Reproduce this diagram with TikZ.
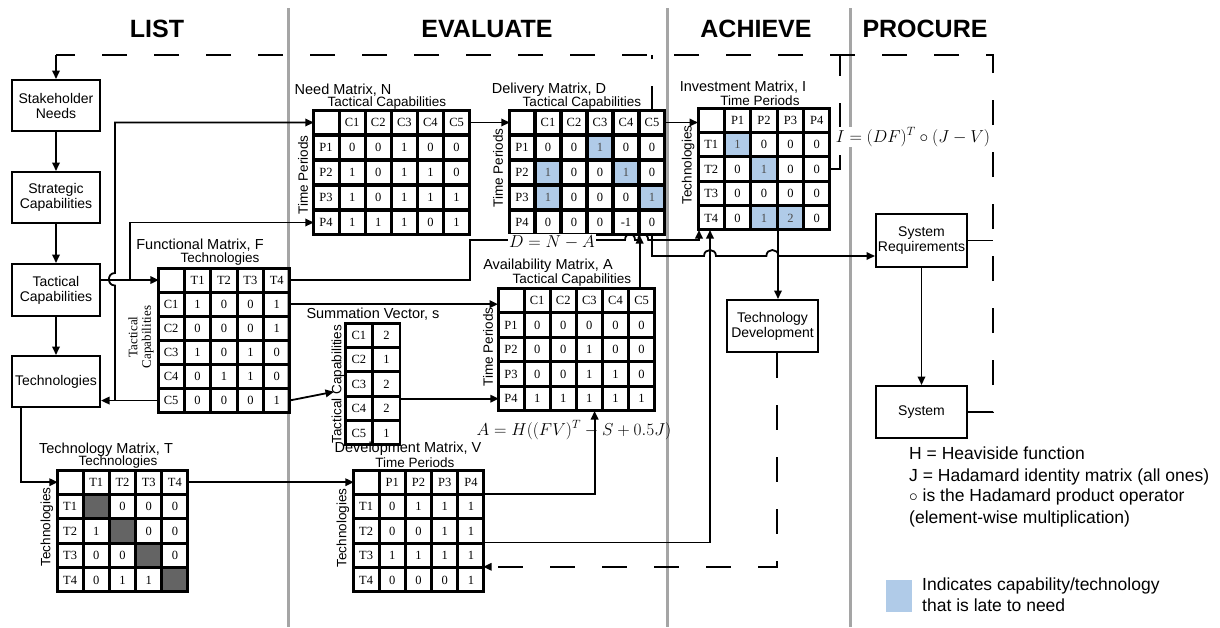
\documentclass[tikz,border=0pt]{standalone}
\usepackage[no-math]{fontspec}
\setmainfont{Liberation Sans}
\newfontfamily\tms{Liberation Serif}
\usetikzlibrary{matrix,arrows.meta}
\definecolor{late}{RGB}{176,203,232}
\definecolor{dk}{RGB}{100,100,100}
\definecolor{sepc}{RGB}{165,165,165}
\begin{document}
\begin{tikzpicture}[x=1pt,y=-1pt,
 ln/.style={line width=1.8pt},
 arr/.style={ln,-{Triangle[length=8.5pt,width=7.5pt]}},
 dl/.style={ln,dash pattern=on 25pt off 27pt},
 box/.style={draw,line width=2pt,align=center,font=\fontsize{14}{15}\selectfont,inner sep=1pt},
 cell/.style={draw,line width=1.6pt,outer sep=0pt,inner sep=0pt,font=\tms\fontsize{12.5}{12.5}\selectfont,text height=8.4pt,text depth=0pt,anchor=center},
 mat/.style={matrix of nodes,nodes in empty cells,ampersand replacement=\&,inner sep=0pt,outer sep=0pt,column sep=0pt,row sep=0pt,anchor=north west},
 lt/.style={fill=late,text=black!70},
 dkc/.style={fill=dk},
 outer/.style={line width=2.4pt},
 ttl/.style={font=\fontsize{14.5}{15}\selectfont,inner sep=0pt},
 sub/.style={font=\fontsize{13.5}{14}\selectfont,inner sep=0pt},
 hdr/.style={font=\bfseries\fontsize{25}{25}\selectfont,inner sep=0pt},
 fml/.style={font=\fontsize{17.28}{17.28}\selectfont,inner sep=1pt},
 leg/.style={font=\fontsize{17.5}{21}\selectfont,inner sep=0pt,anchor=west,text height=12.5pt,text depth=3.5pt},
 sepl/.style={draw=sepc,line width=3pt}
]
\useasboundingbox (0,0) rectangle (1220,627);
% separators
\draw[sepl] (288,8) -- (288,627);
\draw[sepl] (667,8) -- (667,627);
\draw[sepl] (850,8) -- (850,627);
% headers
\node[hdr] (hL) at (157,29) {LIST};
\node[hdr] (hE) at (487,29) {EVALUATE};
\node[hdr] (hA) at (756,29) {ACHIEVE};
\node[hdr] (hP) at (925,29) {PROCURE};
% left boxes
\node[box,minimum width=88pt,minimum height=51pt] (SN) at (56,105.5) {Stakeholder\\Needs};
\node[box,minimum width=88pt,minimum height=51pt] (StC) at (56,197.5) {Strategic\\Capabilities};
\node[box,minimum width=88pt,minimum height=52pt] (TC) at (56,290) {Tactical\\Capabilities};
\node[box,minimum width=88pt,minimum height=51pt] (Tech) at (56,381.5) {Technologies};
% right boxes
\node[box,minimum width=91pt,minimum height=53pt] (SR) at (921.5,240.5) {System\\Requirements};
\node[box,minimum width=91pt,minimum height=52pt] (Sys) at (921.5,412) {System};
\node[box,minimum width=91pt,minimum height=52pt] (TD) at (772.5,326) {Technology\\Development};

% Need matrix
\matrix (N) [mat,nodes={cell,minimum width=24.5pt,minimum height=23.4pt}] at (313,110) {
 \& C1 \& C2 \& C3 \& C4 \& C5 \\
P1 \& 0 \& 0 \& 1 \& 0 \& 0 \\
P2 \& 1 \& 0 \& 1 \& 1 \& 0 \\
P3 \& 1 \& 0 \& 1 \& 1 \& 1 \\
P4 \& 1 \& 1 \& 1 \& 0 \& 1 \\
};
\draw[outer] (N.north west) rectangle (N.south east);
\node[ttl] (Nt) at (343,90) {Need Matrix, N};
\node[sub] (Ns) at (387,103) {Tactical Capabilities};
\node[sub,rotate=90] (Nr) at (303,175) {Time Periods};

% Delivery matrix
\matrix (D) [mat,nodes={cell,minimum width=24.4pt,minimum height=23.4pt}] at (509,110) {
 \& C1 \& C2 \& C3 \& C4 \& C5 \\
P1 \& 0 \& 0 \& |[lt]| 1 \& 0 \& 0 \\
P2 \& |[lt]| 1 \& 0 \& 0 \& |[lt]| 1 \& 0 \\
P3 \& |[lt]| 1 \& 0 \& 0 \& 0 \& |[lt]| 1 \\
P4 \& 0 \& 0 \& 0 \& -1 \& 0 \\
};
\draw[outer] (D.north west) rectangle (D.south east);
\node[ttl] (Dt) at (549,90) {Delivery Matrix, D};
\node[sub] (Ds) at (582,103) {Tactical Capabilities};
\node[sub,rotate=90] (Dr) at (498,168) {Time Periods};

% Investment matrix
\matrix (I) [mat,nodes={cell,minimum width=24.8pt,minimum height=22.8pt}] at (698,108) {
 \& P1 \& P2 \& P3 \& P4 \\
T1 \& |[lt]| 1 \& 0 \& 0 \& 0 \\
T2 \& 0 \& |[lt]| 1 \& 0 \& 0 \\
T3 \& 0 \& 0 \& 0 \& 0 \\
T4 \& 0 \& |[lt]| 1 \& |[lt]| 2 \& 0 \\
};
\draw[outer] (I.north west) rectangle (I.south east);
\node[ttl] (It) at (743,87) {Investment Matrix, I};
\node[sub] (Is) at (760,101) {Time Periods};
\node[sub,rotate=90] (Ir) at (688,165) {Technologies};

% Functional matrix
\matrix (F) [mat,nodes={cell,minimum width=24.8pt,minimum height=22.5pt}] at (158,268) {
 \& T1 \& T2 \& T3 \& T4 \\
C1 \& 1 \& 0 \& 0 \& 1 \\
C2 \& 0 \& 0 \& 0 \& 1 \\
C3 \& 1 \& 0 \& 1 \& 0 \\
C4 \& 0 \& 1 \& 1 \& 0 \\
C5 \& 0 \& 0 \& 0 \& 1 \\
};
\draw[outer] (F.north west) rectangle (F.south east);
\node[ttl] (Ft) at (200,245) {Functional Matrix, F};
\node[sub] (Fs) at (220,259) {Technologies};
\node[rotate=90,align=center,font=\tms\fontsize{13}{13.5}\selectfont,inner sep=0pt] (Fr) at (141,337) {Tactical\\Capabilities};

% Availability matrix
\matrix (A) [mat,nodes={cell,minimum width=24.5pt,minimum height=23pt}] at (498,288) {
 \& C1 \& C2 \& C3 \& C4 \& C5 \\
P1 \& 0 \& 0 \& 0 \& 0 \& 0 \\
P2 \& 0 \& 0 \& 1 \& 0 \& 0 \\
P3 \& 0 \& 0 \& 1 \& 1 \& 0 \\
P4 \& 1 \& 1 \& 1 \& 1 \& 1 \\
};
\draw[outer] (A.north west) rectangle (A.south east);
\node[ttl] (At) at (548,266) {Availability Matrix, A};
\node[sub] (As) at (572,280) {Tactical Capabilities};
\node[sub,rotate=90] (Ar) at (488,347) {Time Periods};

% Summation vector
\matrix (S) [mat,nodes={cell,minimum width=26pt,minimum height=22.8pt}] at (345,323) {
C1 \& 2 \\
C2 \& 1 \\
C3 \& 2 \\
C4 \& 2 \\
C5 \& 1 \\
};
\draw[outer] (S.north west) rectangle (S.south east);
\node[ttl] (St) at (373,314) {Summation Vector, s};
\node[sub,rotate=90] (Sr) at (338,384) {Tactical Capabilities};

% Technology matrix
\matrix (T) [mat,nodes={cell,minimum width=24.6pt,minimum height=22.8pt}] at (57,470) {
 \& T1 \& T2 \& T3 \& T4 \\
T1 \& |[dkc]| {} \& 0 \& 0 \& 0 \\
T2 \& 1 \& |[dkc]| {} \& 0 \& 0 \\
T3 \& 0 \& 0 \& |[dkc]| {} \& 0 \\
T4 \& 0 \& 1 \& 1 \& |[dkc]| {} \\
};
\draw[outer] (T.north west) rectangle (T.south east);
\node[ttl] (Tt) at (106,450) {Technology Matrix, T};
\node[sub] (Ts) at (118,462) {Technologies};
\node[sub,rotate=90] (Tr) at (47,527) {Technologies};

% Development matrix
\matrix (V) [mat,nodes={cell,minimum width=24.6pt,minimum height=22.8pt}] at (353,470) {
 \& P1 \& P2 \& P3 \& P4 \\
T1 \& 0 \& 1 \& 1 \& 1 \\
T2 \& 0 \& 0 \& 1 \& 1 \\
T3 \& 1 \& 1 \& 1 \& 1 \\
T4 \& 0 \& 0 \& 0 \& 1 \\
};
\draw[outer] (V.north west) rectangle (V.south east);
\node[ttl] (Vt) at (408,449) {Development Matrix, V};
\node[sub] (Vs) at (415,463) {Time Periods};
\node[sub,rotate=90] (Vr) at (343,528) {Technologies};

% ---- connectors ----
\draw[arr] (SN) -- (StC);
\draw[arr] (StC) -- (TC);
\draw[arr] (TC) -- (Tech);
\draw[arr] (TC.east |- F-1-1.west) -- (F-1-1.west);
\path (TC.east |- F-1-1.west) ++(29,0) coordinate (jTC);
\draw[arr] (jTC) |- (N-5-1.west);
\draw[arr] (F-6-1.west) -- (F-6-1.west -| Tech.east);
\path (F-6-1.west -| Tech.east) ++(14,0) coordinate (jT);
\draw[arr] (jT) -- (114.9,285.5) .. controls (106.9,285.5) and (106.9,273) .. (114.9,273) |- (N-1-1.west);
\draw[arr] (N-1-6.east) -- (D-1-1.west);
\draw[arr] (D-1-6.east) -- (D-1-6.east -| I.west);
\draw[arr] (F-1-5.east) -| (470,240) -- (625,240) .. controls (625,232) and (635,232) .. (635,240) -- (638.2,240) .. controls (638.2,232) and (648.2,232) .. (648.2,240) -- (699,240) -- ([xshift=1pt]I.south west);
\draw[arr] (F-2-5.east) -- (F-2-5.east -| A.west);
\coordinate (sIn) at (334,391.75);
\draw[arr] (F-6-5.east) -- (sIn);
\draw[arr] (S.east |- A-5-1.west) -- (A-5-1.west);
\draw[arr] ([xshift=10pt]Tech.south west) |- (T-1-1.west);
\draw[arr] (T-1-5.east) -- (V-1-1.west);
\draw[arr] (V-1-5.south east) -| ([xshift=-60pt]A.south east);
\draw[arr] (V-3-5.south east) -| ([xshift=12pt]I.south west);
\draw[arr] ([xshift=-15pt]A.north east) -- ([xshift=-15pt]A.north east |- D.south);
\draw[arr] (D-5-6.south) |- (704,256) .. controls (704,248) and (716,248) .. (716,256) -- (766.4,256) .. controls (766.4,248) and (778.4,248) .. (778.4,256) -- ([yshift=-15.5pt]SR.west);
\draw[arr] (I-5-4.south west) -- (I-5-4.south west |- TD.north);
\draw[arr] (SR) -- (Sys);
\draw[ln] (SR.east) -- (993,240.5);
\draw[dl,-{Triangle[length=8.5pt,width=7.5pt]}] ([xshift=4.5pt]TD.south) |- (V-4-5.south east);
% feedback dashed lines
\coordinate (topL) at (56,55);
\draw[dl] (Sys.east) -| (993,55) -- (topL);
\draw[arr] (topL) -- (SN.north);
\draw[dl] (D-1-6.north) -- (D-1-6.north |- topL);
\draw[dl] (I-3-5.east) -| (840,55);

% formulas
\node[fml,fill=white] (fD) at (552,242) {$D = N - A$};
\node[fml,fill=white] (fI) at (913,137) {$I = (DF)^T \circ (J - V)$};
\node[fml] (fA) at (574,430) {$A = H\bigl((FV)^T - S + 0.5J\bigr)$};

% legend
\node[leg] (l1) at (909,455) {H = Heaviside function};
\node[leg] (l2) at (909,477) {J = Hadamard identity matrix (all ones)};
\node[leg] (l3) at (909,497) {$\circ$ is the Hadamard product operator};
\node[leg] (l4) at (909,519) {(element-wise multiplication)};
\node[fill=late,minimum width=26pt,minimum height=32pt,inner sep=0pt] (key) at (899,596) {};
\node[leg] (l5) at (922,586) {Indicates capability/technology};
\node[leg] (l6) at (922,607) {that is late to need};
\end{tikzpicture}
\end{document}
